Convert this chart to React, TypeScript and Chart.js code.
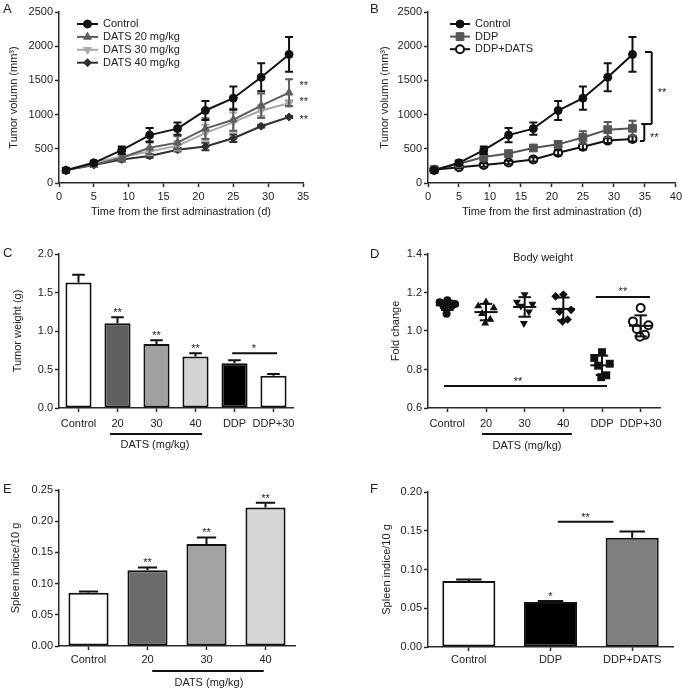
import React, { useEffect, useRef } from 'react';
import { Chart, registerables } from 'chart.js';

Chart.register(...registerables);

const FAMILY = 'Arial, "Liberation Sans", Helvetica, sans-serif';
const INK = '#222';
const AXIS = '#2b2b2b';

// ---------- A & B : tumour volume (mm³) ----------
const days = [1, 5, 9, 13, 17, 21, 25, 29, 33];
const controlVol = [185, 295, 480, 700, 795, 1060, 1240, 1545, 1880];
const controlErr = [35, 25, 55, 105, 90, 140, 170, 205, 255];
const dats20Vol = [190, 265, 370, 515, 590, 795, 925, 1130, 1320];
const dats20Err = [30, 25, 45, 95, 95, 150, 160, 180, 195];
const dats30Vol = [190, 300, 385, 460, 545, 730, 890, 1060, 1165];
const dats30Err = [30, 25, 35, 55, 70, 120, 140, 80, 45];
const dats40Vol = [190, 262, 345, 395, 485, 535, 655, 830, 965];
const dats40Err = [25, 20, 30, 25, 25, 55, 55, 20, 15];
const ddpVol = [195, 282, 380, 430, 512, 565, 665, 780, 800];
const ddpErr = [25, 30, 50, 35, 40, 45, 90, 110, 110];
const comboVol = [195, 232, 262, 300, 345, 442, 530, 620, 645];
const comboErr = [20, 20, 25, 25, 30, 35, 40, 35, 40];
const seriesA = ['Control', 'DATS 20 mg/kg', 'DATS 30 mg/kg', 'DATS 40 mg/kg'];
const seriesB = ['Control', 'DDP', 'DDP+DATS'];
const volTitleX = 'Time from the first adminastration (d)';
const volTitleY = 'Tumor volumn (mm³)';

// ---------- C : tumour weight ----------
const weightCats = ['Control', '20', '30', '40', 'DDP', 'DDP+30'];
const weightMean = [1.63, 1.1, 0.83, 0.67, 0.58, 0.42];
const weightErr = [0.1, 0.08, 0.05, 0.04, 0.04, 0.02];
const weightStars = ['', '**', '**', '**', '', ''];
const weightColors = ['#ffffff', '#5f5f5f', '#a0a0a0', '#d4d4d4', '#000000', '#ffffff'];

// ---------- D : body weight fold change ----------
const bodyCats = ['Control', '20', '30', '40', 'DDP', 'DDP+30'];
const bodyControl = [1.16, 1.15, 1.14, 1.13, 1.13, 1.09];
const body20 = [1.15, 1.13, 1.12, 1.09, 1.06, 1.04];
const body30 = [1.19, 1.15, 1.14, 1.13, 1.1, 1.04];
const body40 = [1.19, 1.18, 1.11, 1.1, 1.06, 1.05];
const bodyDDP = [0.89, 0.86, 0.83, 0.82, 0.77, 0.76];
const bodyCombo = [1.12, 1.05, 1.03, 1.01, 0.98, 0.97];

// ---------- E : spleen index, DATS doses ----------
const spleenCatsE = ['Control', '20', '30', '40'];
const spleenE = [0.0855, 0.1215, 0.1635, 0.222];
const spleenErrE = [0.002, 0.0045, 0.0105, 0.0075];
const spleenStarsE = ['', '**', '**', '**'];
const spleenColorsE = ['#ffffff', '#6b6b6b', '#a3a3a3', '#d6d6d6'];

// ---------- F : spleen index, DDP ----------
const spleenCatsF = ['Control', 'DDP', 'DDP+DATS'];
const spleenF = [0.0852, 0.058, 0.141];
const spleenErrF = [0.002, 0.0014, 0.008];
const spleenStarsF = ['', '*', ''];
const spleenColorsF = ['#ffffff', '#000000', '#808080'];

// ---------------------------------------------------------------
const f = (size = 11) => ({ family: FAMILY, size });
const JITTER = [0, -0.2, 0.2, -0.1, 0.11, -0.02];

function drawMarker(ctx: any, style: string, x: number, y: number, r: number, rot: number, fill: string, stroke: string, lw: number) {
  ctx.save();
  ctx.translate(x, y);
  ctx.rotate(((rot || 0) * Math.PI) / 180);
  ctx.beginPath();
  if (style === 'triangle') {
    for (let k = 0; k < 3; k++) {
      const a = (k * 2 * Math.PI) / 3;
      const px = Math.sin(a) * r;
      const py = -Math.cos(a) * r;
      if (k === 0) ctx.moveTo(px, py);
      else ctx.lineTo(px, py);
    }
    ctx.closePath();
  } else if (style === 'rect') {
    const h = r * Math.SQRT1_2;
    ctx.rect(-h, -h, 2 * h, 2 * h);
  } else if (style === 'rectRot') {
    ctx.moveTo(0, -r);
    ctx.lineTo(r, 0);
    ctx.lineTo(0, r);
    ctx.lineTo(-r, 0);
    ctx.closePath();
  } else {
    ctx.arc(0, 0, r, 0, Math.PI * 2);
  }
  ctx.fillStyle = fill;
  ctx.fill();
  if (lw > 0) {
    ctx.strokeStyle = stroke;
    ctx.lineWidth = lw;
    ctx.stroke();
  }
  ctx.restore();
}

function drawText(ctx: any, s: string, x: number, y: number, align = 'center', base = 'alphabetic', size = 11) {
  ctx.save();
  ctx.fillStyle = INK;
  ctx.font = `${size}px ${FAMILY}`;
  ctx.textAlign = align;
  ctx.textBaseline = base;
  ctx.fillText(s, x, y);
  ctx.restore();
}

function drawLine(ctx: any, x1: number, y1: number, x2: number, y2: number, lw = 2, color = '#111') {
  ctx.save();
  ctx.strokeStyle = color;
  ctx.lineWidth = lw;
  ctx.beginPath();
  ctx.moveTo(x1, y1);
  ctx.lineTo(x2, y2);
  ctx.stroke();
  ctx.restore();
}

function extras(spec: any) {
  return {
    id: 'extras',
    afterDatasetDraw(chart: any, args: any) {
      const ds = chart.data.datasets[args.index];
      if (!ds.errorBars) return;
      const ctx = chart.ctx;
      const ys = chart.scales.y;
      ctx.save();
      ctx.strokeStyle = ds.errorColor || '#111';
      ctx.lineWidth = 2;
      args.meta.data.forEach((el: any, i: number) => {
        const raw = ds.data[i];
        const v = typeof raw === 'number' ? raw : raw.y;
        const e = ds.errorBars[i];
        const x = el.x;
        const yTop = ys.getPixelForValue(v + e);
        const yBot = ds.errorBoth ? ys.getPixelForValue(v - e) : ys.getPixelForValue(v);
        const cap = ds.capHalf != null ? ds.capHalf : el.width * 0.24;
        ctx.beginPath();
        ctx.moveTo(x, yTop);
        ctx.lineTo(x, yBot);
        ctx.moveTo(x - cap, yTop);
        ctx.lineTo(x + cap, yTop);
        if (ds.errorBoth) {
          ctx.moveTo(x - cap, yBot);
          ctx.lineTo(x + cap, yBot);
        }
        ctx.stroke();
      });
      ctx.restore();
    },
    afterDatasetsDraw(chart: any) {
      const ctx = chart.ctx;
      const xs = chart.scales.x;
      const ys = chart.scales.y;
      if (spec.barStars) {
        const ds = chart.data.datasets[0];
        const meta = chart.getDatasetMeta(0);
        meta.data.forEach((el: any, i: number) => {
          const s = spec.barStars[i];
          if (!s) return;
          const top = ys.getPixelForValue(ds.data[i] + ds.errorBars[i]) - 1;
          drawText(ctx, s, el.x, top, 'center', 'alphabetic', 11);
        });
      }
      if (spec.meanSd) {
        const cw = xs.getPixelForValue(1) - xs.getPixelForValue(0);
        chart.data.datasets.forEach((ds: any) => {
          const vals: number[] = ds.groupValues;
          const n = vals.length;
          const mean = vals.reduce((a, b) => a + b, 0) / n;
          const sd = Math.sqrt(vals.reduce((a, b) => a + (b - mean) * (b - mean), 0) / (n - 1));
          const cx = xs.getPixelForValue(ds.cat);
          const ym = ys.getPixelForValue(mean);
          const yt = ys.getPixelForValue(mean + sd);
          const yb = ys.getPixelForValue(mean - sd);
          drawLine(ctx, cx - cw * 0.3, ym, cx + cw * 0.3, ym, 2);
          drawLine(ctx, cx, yt, cx, yb, 2);
          drawLine(ctx, cx - cw * 0.16, yt, cx + cw * 0.16, yt, 2);
          drawLine(ctx, cx - cw * 0.16, yb, cx + cw * 0.16, yb, 2);
        });
      }
    },
    afterDraw(chart: any) {
      const ctx = chart.ctx;
      const xs = chart.scales.x;
      const ys = chart.scales.y;
      const ca = chart.chartArea;
      const px = (a: any, v: number) => (a.mode === 'abs' ? v : xs.getPixelForValue(v));
      const py = (a: any, v: number) =>
        a.mode === 'abs' ? v : a.mode === 'below' ? ca.bottom + v : ys.getPixelForValue(v);
      (spec.anns || []).forEach((a: any) => {
        if (a.kind === 'hline') drawLine(ctx, px(a, a.x1), py(a, a.y), px(a, a.x2), py(a, a.y), 2);
        else if (a.kind === 'vline') drawLine(ctx, px(a, a.x), py(a, a.y1), px(a, a.x), py(a, a.y2), 2);
        else drawText(ctx, a.text, px(a, a.x), py(a, a.y), a.align || 'center', a.base || 'alphabetic', a.size || 11);
      });
      if (spec.legend) {
        const L = spec.legend;
        chart.data.datasets.forEach((ds: any, i: number) => {
          const y = L.y + i * L.dy;
          drawLine(ctx, L.x, y, L.x + L.len, y, 2, ds.borderColor);
          drawMarker(ctx, ds.pointStyle, L.x + L.len / 2, y, ds.pointRadius, ds.pointRotation, ds.pointBackgroundColor, ds.pointBorderColor, ds.pointBorderWidth);
          drawText(ctx, ds.label, L.x + L.len + L.gap, y, 'left', 'middle', 11);
        });
      }
      if (spec.letter) drawText(ctx, spec.letter.text, spec.letter.x, spec.letter.y, 'left', 'alphabetic', 13);
    },
  };
}

function yAxis(o: any) {
  return {
    type: 'linear',
    position: 'left',
    min: o.min,
    max: o.max,
    ticks: { stepSize: o.step, color: INK, font: f(), padding: 2, callback: (v: any) => Number(v).toFixed(o.dec) },
    grid: { display: true, drawOnChartArea: false, drawTicks: true, tickLength: 4, tickWidth: 1.5, color: AXIS },
    border: { display: true, color: AXIS, width: 1.5 },
    title: { display: true, text: o.title, color: INK, font: f(), padding: { top: o.titleX - 6.6, bottom: 0 } },
    afterFit: (s: any) => {
      s.width = o.width;
    },
  };
}

function xLinear(o: any) {
  return {
    type: 'linear',
    position: 'bottom',
    min: 0,
    max: o.max,
    ticks: { stepSize: 5, color: INK, font: f(), padding: 3, maxRotation: 0 },
    grid: { display: true, drawOnChartArea: false, drawTicks: true, tickLength: 4, tickWidth: 1.5, color: AXIS },
    border: { display: true, color: AXIS, width: 1.5 },
    title: { display: true, text: volTitleX, color: INK, font: f(), padding: { top: 0, bottom: o.gap } },
    afterFit: (s: any) => {
      s.height = o.height;
    },
  };
}

function xCategory(o: any) {
  return {
    type: 'category',
    position: 'bottom',
    offset: true,
    ticks: { color: INK, font: f(), padding: o.pad, maxRotation: 0, autoSkip: false },
    grid: { display: true, offset: false, drawOnChartArea: false, drawTicks: true, tickLength: 4, tickWidth: 1.5, color: AXIS },
    border: { display: true, color: AXIS, width: 1.5 },
    afterFit: (s: any) => {
      s.height = o.height;
    },
  };
}

function baseOptions(pad: any, scales: any) {
  return {
    responsive: false,
    animation: false,
    events: [],
    devicePixelRatio: 1,
    layout: { padding: pad },
    plugins: { legend: { display: false }, tooltip: { enabled: false }, title: { display: false } },
    scales,
  };
}

function volDataset(label: string, vals: number[], errs: number[], color: string, style: string, rot: number, r: number, fill?: string, bw = 1) {
  return {
    type: 'line',
    label,
    data: days.map((d, i) => ({ x: d, y: vals[i] })),
    borderColor: color,
    backgroundColor: color,
    borderWidth: 2,
    pointStyle: style,
    pointRotation: rot,
    pointRadius: r,
    pointBackgroundColor: fill || color,
    pointBorderColor: color,
    pointBorderWidth: bw,
    tension: 0,
    errorBars: errs,
    errorBoth: true,
    errorColor: color,
    capHalf: 4,
  };
}

const buildA = () => ({
  type: 'line',
  data: {
    datasets: [
      volDataset(seriesA[0], controlVol, controlErr, '#111111', 'circle', 0, 4),
      volDataset(seriesA[1], dats20Vol, dats20Err, '#5e5e5e', 'triangle', 0, 4.5),
      volDataset(seriesA[2], dats30Vol, dats30Err, '#a9a9a9', 'triangle', 180, 4.5),
      volDataset(seriesA[3], dats40Vol, dats40Err, '#303030', 'rectRot', 0, 4),
    ],
  },
  options: baseOptions(
    { left: 0, top: 12, right: 37, bottom: 0 },
    {
      x: xLinear({ max: 35, height: 42, gap: 6.4 }),
      y: yAxis({ min: 0, max: 2500, step: 500, dec: 0, width: 59, title: volTitleY, titleX: 14 }),
    }
  ),
  plugins: [
    extras({
      letter: { text: 'A', x: 3, y: 13 },
      legend: { x: 77, y: 24, dy: 12.9, len: 21, gap: 5 },
      anns: [
        { kind: 'text', x: 34.5, y: 1374, text: '**', align: 'left' },
        { kind: 'text', x: 34.5, y: 1140, text: '**', align: 'left' },
        { kind: 'text', x: 34.5, y: 877, text: '**', align: 'left' },
      ],
    }),
  ],
});

const buildB = () => ({
  type: 'line',
  data: {
    datasets: [
      volDataset(seriesB[0], controlVol, controlErr, '#111111', 'circle', 0, 4),
      volDataset(seriesB[1], ddpVol, ddpErr, '#555555', 'rect', 0, 5.5),
      volDataset(seriesB[2], comboVol, comboErr, '#111111', 'circle', 0, 4, '#ffffff', 2),
    ],
  },
  options: baseOptions(
    { left: 0, top: 12, right: 8, bottom: 0 },
    {
      x: xLinear({ max: 40, height: 42, gap: 6.4 }),
      y: yAxis({ min: 0, max: 2500, step: 500, dec: 0, width: 88, title: volTitleY, titleX: 45 }),
    }
  ),
  plugins: [
    extras({
      letter: { text: 'B', x: 30, y: 13 },
      legend: { x: 110, y: 24, dy: 12.6, len: 20, gap: 5 },
      anns: [
        { kind: 'vline', x: 36.1, y1: 1915, y2: 862 },
        { kind: 'hline', x1: 35.0, x2: 36.1, y: 1915 },
        { kind: 'hline', x1: 34.4, x2: 36.1, y: 862 },
        { kind: 'vline', x: 34.9, y1: 862, y2: 614 },
        { kind: 'hline', x1: 34.2, x2: 34.9, y: 614 },
        { kind: 'text', x: 37.75, y: 1272, text: '**' },
        { kind: 'text', x: 36.5, y: 614, text: '**' },
      ],
    }),
  ],
});

const buildC = () => ({
  type: 'bar',
  data: {
    labels: weightCats,
    datasets: [
      {
        data: weightMean,
        backgroundColor: weightColors,
        borderColor: '#111',
        borderWidth: 2,
        borderSkipped: false,
        barPercentage: 0.67,
        categoryPercentage: 1,
        errorBars: weightErr,
        errorColor: '#111',
      },
    ],
  },
  options: baseOptions(
    { left: 0, top: 29, right: 47, bottom: 0 },
    {
      x: xCategory({ pad: 5, height: 52 }),
      y: yAxis({ min: 0, max: 2, step: 0.5, dec: 1, width: 59, title: 'Tumor weight (g)', titleX: 18 }),
    }
  ),
  plugins: [
    extras({
      letter: { text: 'C', x: 3, y: 32 },
      barStars: weightStars,
      anns: [
        { kind: 'hline', x1: 3.94, x2: 5.09, y: 0.71 },
        { kind: 'text', x: 4.5, y: 0.725, text: '*' },
        { kind: 'hline', mode: 'below', x1: 0.81, x2: 3.17, y: 26 },
        { kind: 'text', mode: 'below', x: 1.96, y: 37, text: 'DATS (mg/kg)', base: 'middle' },
      ],
    }),
  ],
});

function bodyDataset(cat: number, vals: number[], style: string, rot: number, r: number, fill = '#111', bw = 0) {
  return {
    type: 'scatter',
    data: vals.map((v, j) => ({ x: cat + JITTER[j % JITTER.length], y: v })),
    pointStyle: style,
    pointRotation: rot,
    pointRadius: r,
    pointBackgroundColor: fill,
    pointBorderColor: '#111',
    pointBorderWidth: bw,
    showLine: false,
    groupValues: vals,
    cat,
  };
}

const buildD = () => ({
  type: 'scatter',
  data: {
    datasets: [
      bodyDataset(0, bodyControl, 'circle', 0, 4),
      bodyDataset(1, body20, 'triangle', 0, 4.6),
      bodyDataset(2, body30, 'triangle', 180, 4.6),
      bodyDataset(3, body40, 'rectRot', 0, 4.3),
      bodyDataset(4, bodyDDP, 'rect', 0, 5.6),
      bodyDataset(5, bodyCombo, 'circle', 0, 4, '#ffffff', 2),
    ],
  },
  options: baseOptions(
    { left: 0, top: 29, right: 25, bottom: 0 },
    {
      x: {
        type: 'linear',
        position: 'bottom',
        min: -0.5,
        max: 5.5,
        afterBuildTicks: (s: any) => {
          s.ticks = bodyCats.map((_, i) => ({ value: i }));
        },
        ticks: { color: INK, font: f(), padding: 5, maxRotation: 0, autoSkip: false, callback: (v: any) => bodyCats[Math.round(v)] ?? '' },
        grid: { display: true, drawOnChartArea: false, drawTicks: true, tickLength: 4, tickWidth: 1.5, color: AXIS },
        border: { display: true, color: AXIS, width: 1.5 },
        afterFit: (s: any) => {
          s.height = 52;
        },
      },
      y: yAxis({ min: 0.6, max: 1.4, step: 0.2, dec: 1, width: 88, title: 'Fold change', titleX: 56 }),
    }
  ),
  plugins: [
    extras({
      letter: { text: 'D', x: 30, y: 33 },
      meanSd: true,
      anns: [
        { kind: 'text', mode: 'abs', x: 203, y: 33, text: 'Body weight', base: 'middle' },
        { kind: 'hline', x1: 3.84, x2: 5.24, y: 1.177 },
        { kind: 'text', x: 4.54, y: 1.187, text: '**' },
        { kind: 'hline', x1: -0.086, x2: 4.13, y: 0.714 },
        { kind: 'text', x: 1.83, y: 0.722, text: '**' },
        { kind: 'hline', mode: 'below', x1: 0.896, x2: 3.22, y: 26 },
        { kind: 'text', mode: 'below', x: 2.06, y: 38, text: 'DATS (mg/kg)', base: 'middle' },
      ],
    }),
  ],
});

const buildE = () => ({
  type: 'bar',
  data: {
    labels: spleenCatsE,
    datasets: [
      {
        data: spleenE,
        backgroundColor: spleenColorsE,
        borderColor: '#111',
        borderWidth: 2,
        borderSkipped: false,
        barPercentage: 0.68,
        categoryPercentage: 1,
        errorBars: spleenErrE,
        errorColor: '#111',
      },
    ],
  },
  options: baseOptions(
    { left: 0, top: 30, right: 45, bottom: 0 },
    {
      x: xCategory({ pad: 3, height: 45 }),
      y: yAxis({ min: 0, max: 0.25, step: 0.05, dec: 2, width: 59, title: 'Spleen indice/10 g', titleX: 16 }),
    }
  ),
  plugins: [
    extras({
      letter: { text: 'E', x: 3, y: 33 },
      barStars: spleenStarsE,
      anns: [
        { kind: 'hline', mode: 'below', x1: 1.08, x2: 2.97, y: 25 },
        { kind: 'text', mode: 'below', x: 2.04, y: 37, text: 'DATS (mg/kg)', base: 'middle' },
      ],
    }),
  ],
});

const buildF = () => ({
  type: 'bar',
  data: {
    labels: spleenCatsF,
    datasets: [
      {
        data: spleenF,
        backgroundColor: spleenColorsF,
        borderColor: '#111',
        borderWidth: 2,
        borderSkipped: false,
        barPercentage: 0.65,
        categoryPercentage: 1,
        errorBars: spleenErrF,
        errorColor: '#111',
      },
    ],
  },
  options: baseOptions(
    { left: 0, top: 32, right: 12, bottom: 0 },
    {
      x: xCategory({ pad: 2.5, height: 44 }),
      y: yAxis({ min: 0, max: 0.2, step: 0.05, dec: 2, width: 88, title: 'Spleen indice/10 g', titleX: 47 }),
    }
  ),
  plugins: [
    extras({
      letter: { text: 'F', x: 30, y: 33 },
      barStars: spleenStarsF,
      anns: [
        { kind: 'hline', x1: 1.09, x2: 1.77, y: 0.1617 },
        { kind: 'text', x: 1.43, y: 0.1626, text: '**' },
      ],
    }),
  ],
});

function Panel({ x, y, w, h, build }: any) {
  const ref = useRef<HTMLCanvasElement>(null);
  useEffect(() => {
    const chart = new Chart(ref.current as any, build() as any);
    return () => chart.destroy();
  }, [build]);
  return <canvas ref={ref} width={w} height={h} style={{ position: 'absolute', left: x, top: y, width: w, height: h }} />;
}

export default function App() {
  useEffect(() => {
    document.body.style.margin = '0';
  }, []);
  return (
    <div style={{ position: 'fixed', left: 0, top: 0, width: 685, height: 691, background: '#ffffff', overflow: 'hidden' }}>
      <Panel x={0} y={0} w={340} h={225} build={buildA} />
      <Panel x={340} y={0} w={345} h={225} build={buildB} />
      <Panel x={0} y={225} w={340} h={235} build={buildC} />
      <Panel x={340} y={225} w={345} h={235} build={buildD} />
      <Panel x={0} y={460} w={340} h={231} build={buildE} />
      <Panel x={340} y={460} w={345} h={231} build={buildF} />
    </div>
  );
}
